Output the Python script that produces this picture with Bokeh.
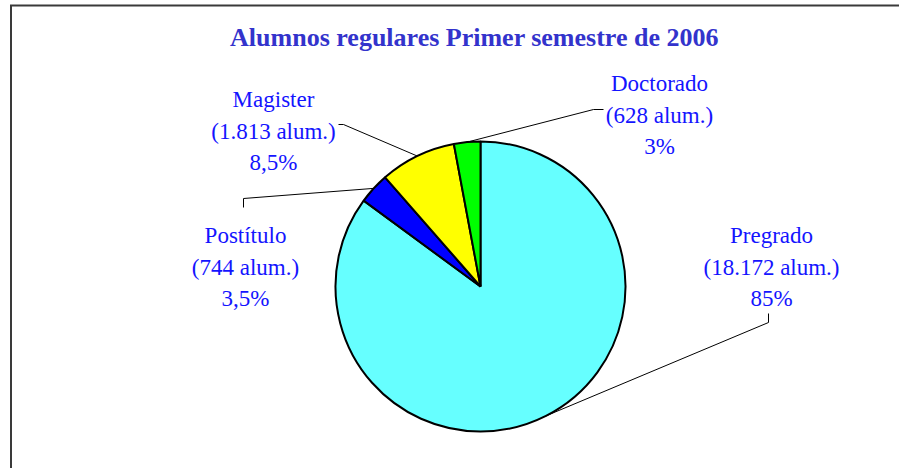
import math
from bokeh.plotting import figure
from bokeh.models import Range1d, ColumnDataSource
from bokeh.core.properties import value
from bokeh.embed import file_html
from bokeh.resources import INLINE

# ---- data ----
categories = ["Pregrado", "Postítulo", "Magister", "Doctorado"]
students = [18172, 744, 1813, 628]
student_labels = ["18.172", "744", "1.813", "628"]
pct_labels = ["85%", "3,5%", "8,5%", "3%"]
colors = ["#66FFFF", "#0000FF", "#FFFF00", "#00FF00"]
title_text = "Alumnos regulares Primer semestre de 2006"

# ---- layout (page pixel coordinates) ----
PAGE_W, PAGE_H = 899, 468
W, H = PAGE_W, PAGE_H


def Y(py):
    return PAGE_H - py


p = figure(width=W, height=H, x_range=Range1d(0, PAGE_W), y_range=Range1d(0, H),
           output_backend="svg", toolbar_location=None, x_axis_type=None, y_axis_type=None,
           min_border=0, outline_line_color=None, background_fill_color="white",
           border_fill_color="white")

# chart area border (only left and top visible)
p.segment(x0=[10.5, 9.5], y0=[Y(PAGE_H), Y(5)], x1=[10.5, PAGE_W], y1=[Y(5), Y(5)],
          line_color="#3a3a3a", line_width=2)

# pie
cx, cy, r = 480, Y(286), 145
total = sum(students)
starts, ends, mids = [], [], []
cum = 0.0
for v in students:
    a0 = math.pi / 2 - 2 * math.pi * cum
    cum += v / total
    a1 = math.pi / 2 - 2 * math.pi * cum
    starts.append(a0)
    ends.append(a1)
    mids.append((a0 + a1) / 2)

src = ColumnDataSource(dict(start=starts, end=ends, color=colors, cat=categories))
p.wedge(x=cx, y=cy, radius=r, start_angle="start", end_angle="end", direction="clock",
        fill_color="color", line_color="black", line_width=2, source=src)

# labels
label_cx = [771, 245, 273, 659]
label_base = [235, 235, 99, 83]
line_gap = 31.5
leader_pts = [
    [(768, 313), (768, 322)],
    [(243, 207), (243, 198)],
    [(338, 124), (343, 124)],
    [(603, 109), (593, 109)],
]

lx, ly, lt = [], [], []
for i, cat in enumerate(categories):
    lines = [cat, "(" + student_labels[i] + " alum.)", pct_labels[i]]
    for j, t in enumerate(lines):
        lx.append(label_cx[i])
        ly.append(Y(label_base[i] + j * line_gap))
        lt.append(t)
    xs = [pt[0] for pt in leader_pts[i]] + [cx + r * math.cos(mids[i])]
    ys = [Y(pt[1]) for pt in leader_pts[i]] + [cy + r * math.sin(mids[i])]
    p.line(x=xs, y=ys, line_color="black", line_width=1)

p.text(x=lx, y=ly, text=lt, text_align="center", text_baseline="alphabetic",
       text_font=value("Liberation Serif"), text_font_size="23px", text_color="#1414FF")

# title
p.text(x=[474], y=[Y(37)], text=[title_text], text_align="center", text_baseline="alphabetic",
       text_font=value("Liberation Serif"), text_font_style="bold", text_font_size="26px",
       text_color="#3333CC")

open("out.html", "w").write(file_html(p, INLINE))
